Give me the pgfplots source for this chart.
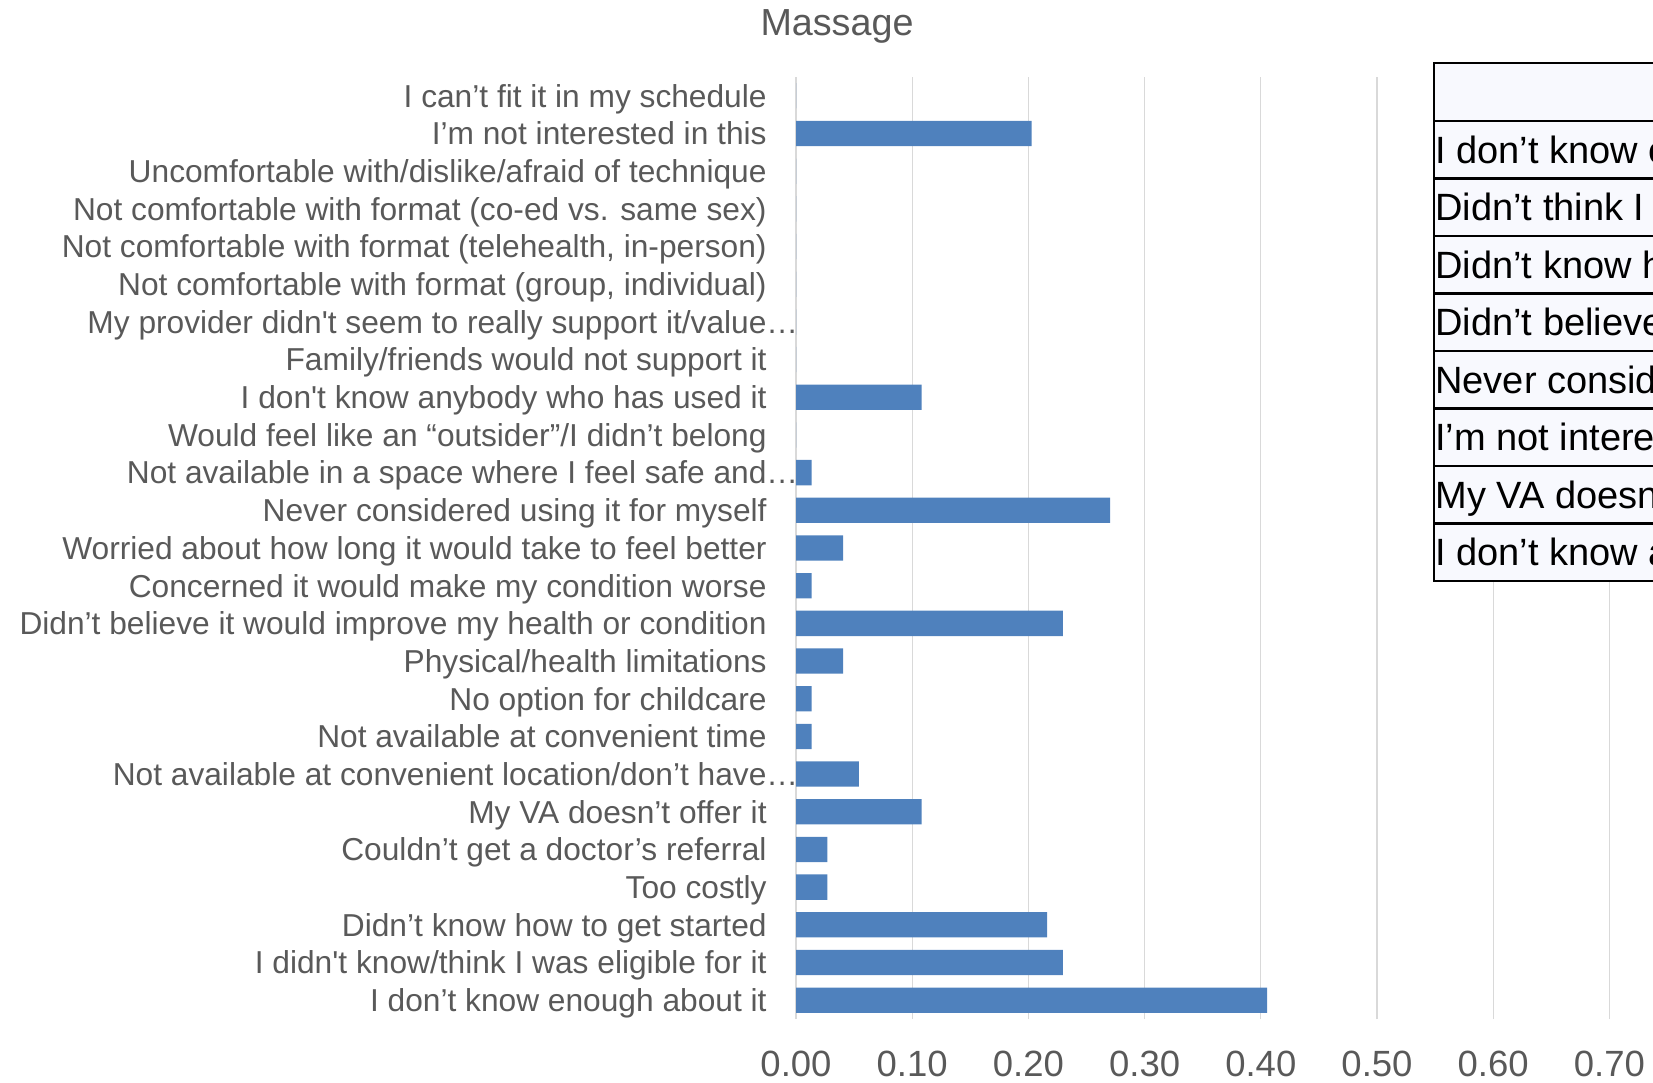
\documentclass[border=0pt]{standalone}
\usepackage{pgfplots}
\usepackage{pgfplotstable}
\pgfplotsset{compat=1.18}
\usepackage{fontspec}
\setmainfont{Liberation Sans}

\definecolor{barblue}{HTML}{4F81BD}
\definecolor{labelgray}{HTML}{595959}
\definecolor{gridgray}{HTML}{D9D9D9}
\definecolor{tablefill}{HTML}{F8F9FE}

% Share of respondents giving each reason (index 0 = bottom row)
\pgfplotstableread{
idx share
0  0.4054
1  0.2297
2  0.2162
3  0.0270
4  0.0270
5  0.1081
6  0.0541
7  0.0135
8  0.0135
9  0.0405
10 0.2297
11 0.0135
12 0.0405
13 0.2703
14 0.0135
15 0
16 0.1081
17 0
18 0
19 0
20 0
21 0
22 0
23 0.2027
24 0
}\massage

\begin{document}
\begin{tikzpicture}[x=1pt,y=1pt]
\useasboundingbox (0,0) rectangle (826.5,541);
\clip (0,0) rectangle (826.5,541);

\begin{axis}[
  at={(398pt,31.5pt)}, anchor=south west,
  scale only axis, width=464.8pt, height=471pt,
  xmin=0, xmax=0.8, ymin=-0.5, ymax=24.5,
  xbar, bar width=12.65pt,
  axis line style={draw=none},
  xmajorgrids, grid style={gridgray, line width=0.6pt},
  major tick length=0pt,
  xtick={0,0.1,0.2,0.3,0.4,0.5,0.6,0.7,0.8},
  /pgf/number format/fixed,
  /pgf/number format/fixed zerofill,
  /pgf/number format/precision=2,
  /pgf/number format/assume math mode=true,
  xticklabel style={font=\fontsize{18.25pt}{20pt}\selectfont, text=labelgray,
    anchor=north, inner sep=0pt, text height=13.05pt, text depth=0pt, yshift=-15.5pt},
  ytick={0,...,24},
  yticklabels={
    {I don’t know enough about it},
    {I didn\textquotesingle t know/think I was eligible for it},
    {Didn’t know how to get started},
    {Too costly},
    {Couldn’t get a doctor’s referral},
    {My VA doesn’t offer it},
    {Not available at convenient location/don’t have\rlap{…}},
    {Not available at convenient time},
    {No option for childcare},
    {Physical/health limitations},
    {Didn’t believe it would improve my health or condition},
    {Concerned it would make my condition worse},
    {Worried about how long it would take to feel better},
    {Never considered using it for myself},
    {Not available in a space where I feel safe and\rlap{…}},
    {Would feel like an “outsider”/I didn’t belong},
    {I don\textquotesingle t know anybody who has used it},
    {Family/friends would not support it},
    {My provider didn\textquotesingle t seem to really support it/value\rlap{…}},
    {Not comfortable with format (group, individual)},
    {Not comfortable with format (telehealth, in-person)},
    {Not comfortable with format (co-ed vs. same sex)},
    {Uncomfortable with/dislike/afraid of technique},
    {I’m not interested in this},
    {I can’t fit it in my schedule}
  },
  yticklabel style={font=\fontsize{15.85pt}{18pt}\selectfont, text=labelgray,
    anchor=east, inner sep=0pt, text height=11.35pt, text depth=0pt, xshift=-14.5pt},
]
\addplot[fill=barblue, draw=none] table[x=share, y=idx] {\massage};
\end{axis}

% chart title
\node[anchor=base, font=\fontsize{18.85pt}{22pt}\selectfont, text=labelgray]
  at (418.5,523) {Massage};

% reasons table overlaid on the right
\fill[tablefill] (717,250.5) rectangle (1100,509.5);
\foreach \yy in {480.5,451.75,423,394.25,365.5,336.75,308,279.25}
  \draw[line width=1.2pt] (717,\yy) -- (1100,\yy);
\draw[line width=1.2pt] (717,509.5) rectangle (1100,250.5);
\foreach \yc/\txt in {
    466.125/{I don’t know enough about it},
    437.375/{Didn’t think I was eligible},
    408.625/{Didn’t know how to get started},
    379.875/{Didn’t believe it would improve my health},
    351.125/{Never considered using it for myself},
    322.375/{I’m not interested in this},
    293.625/{My VA doesn’t offer it},
    264.875/{I don’t know anybody who has used it}}
  \node[anchor=west, inner sep=0pt, text height=13.5pt, text depth=0pt,
        font=\fontsize{19pt}{22pt}\selectfont]
    at (717.5,\yc) {\txt};
\end{tikzpicture}
\end{document}
